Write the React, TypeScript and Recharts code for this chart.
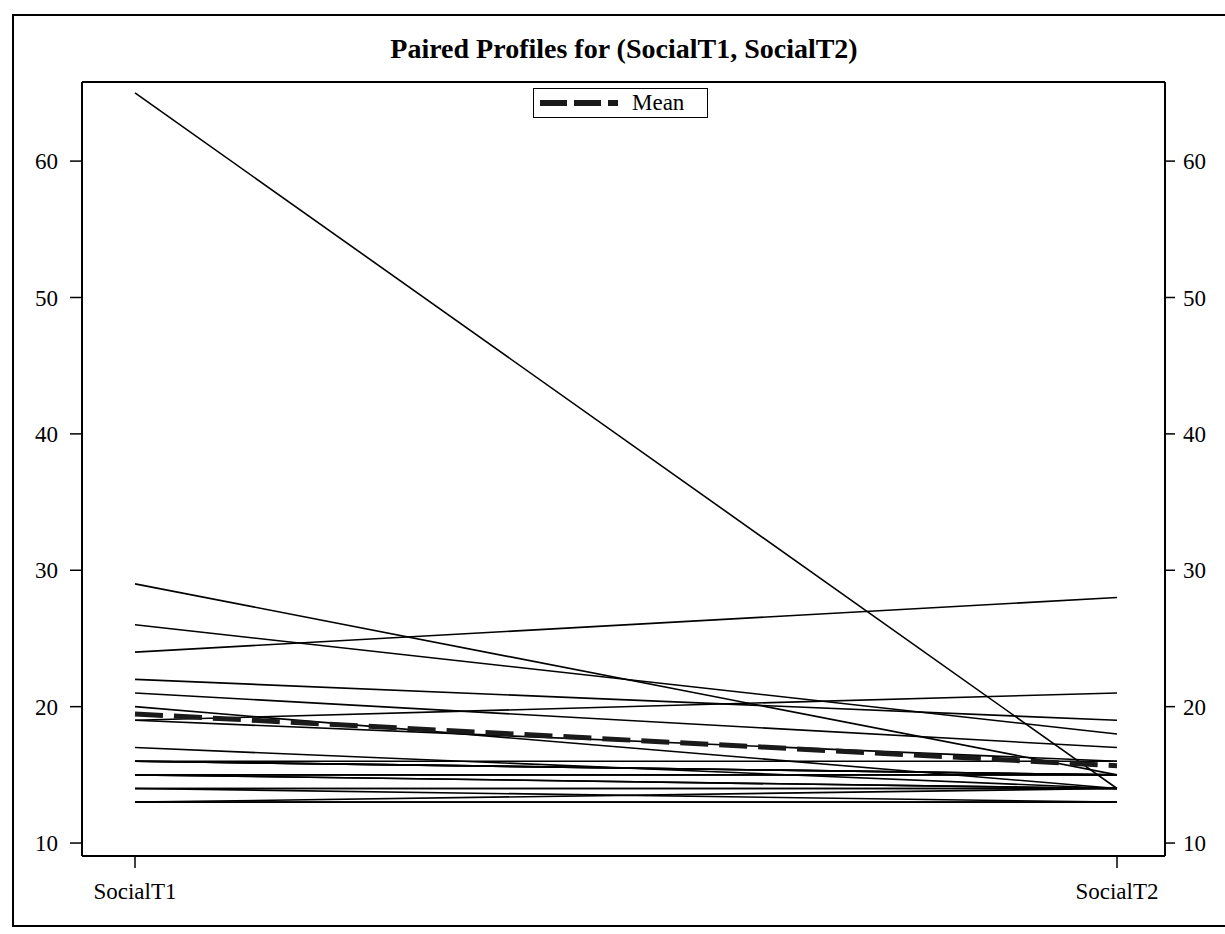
import { LineChart, Line, XAxis, YAxis } from "recharts";

const timeLabels = ["SocialT1", "SocialT2"];

// one entry per subject: score at T1 and at T2
const socialT1 = [65, 29, 26, 24, 22, 21, 20, 19, 19, 17, 16, 16, 16, 15, 15, 15, 14, 14, 13, 13, 16, 15, 14, 13];
const socialT2 = [14, 15, 18, 28, 19, 17, 14, 21, 16, 14, 16, 15, 15, 15, 14, 14, 14, 14, 13, 14, 15, 15, 13, 13];

const yTicks = [10, 20, 30, 40, 50, 60];
const yDomain = [9.05, 65.8];

const avg = (a: number[]) => a.reduce((s, v) => s + v, 0) / a.length;
const means = [avg(socialT1), avg(socialT2)];

const data = timeLabels.map((time, j) => {
  const row: any = { time, mean: means[j] };
  socialT1.forEach((v, i) => {
    row["s" + i] = j === 0 ? v : socialT2[i];
  });
  return row;
});

const serif = "'Liberation Serif', 'Times New Roman', serif";
const tickStyle = { fontFamily: serif, fontSize: 23, fill: "#000" };
const axisLine = { stroke: "#000", strokeWidth: 2 };
const tickLine = { stroke: "#000", strokeWidth: 1.5 };

export default function App() {
  return (
    <div
      style={{
        position: "absolute",
        top: 14,
        left: 12,
        width: 1211,
        height: 909,
        borderLeft: "2px solid #000",
        borderTop: "2px solid #000",
        borderBottom: "2px solid #000",
        background: "#fff",
        fontFamily: serif,
        overflow: "hidden",
      }}
    >
      <div
        style={{
          position: "absolute",
          top: 17,
          left: 0,
          width: 1220,
          textAlign: "center",
          fontSize: 28,
          fontWeight: "bold",
          lineHeight: "32px",
          zIndex: 2,
        }}
      >
        Paired Profiles for (SocialT1, SocialT2)
      </div>
      <div
        style={{
          position: "absolute",
          top: 72,
          left: 519,
          width: 175,
          height: 30,
          border: "1.5px solid #000",
          background: "#fff",
          display: "flex",
          alignItems: "center",
          paddingLeft: 6,
          boxSizing: "border-box",
          zIndex: 2,
        }}
      >
        <svg width={78} height={10}>
          <line x1={0} y1={5} x2={78} y2={5} stroke="#1a1a1a" strokeWidth={6} strokeDasharray="27 7" />
        </svg>
        <span style={{ fontSize: 23, marginLeft: 14 }}>Mean</span>
      </div>
      <LineChart
        width={1211}
        height={909}
        data={data}
        margin={{ top: 65, right: 0, left: 8, bottom: 19 }}
      >
        <XAxis
          dataKey="time"
          padding={{ left: 53, right: 48 }}
          height={50}
          tick={tickStyle}
          tickSize={12}
          tickMargin={15}
          axisLine={axisLine}
          tickLine={tickLine}
        />
        <XAxis
          xAxisId="top"
          orientation="top"
          dataKey="time"
          padding={{ left: 53, right: 48 }}
          height={1}
          tick={false}
          tickLine={false}
          axisLine={axisLine}
        />
        <YAxis
          type="number"
          domain={yDomain}
          ticks={yTicks}
          allowDataOverflow
          width={60}
          tick={tickStyle}
          tickSize={12}
          tickMargin={12}
          axisLine={axisLine}
          tickLine={tickLine}
        />
        <YAxis
          yAxisId="right"
          orientation="right"
          type="number"
          domain={yDomain}
          ticks={yTicks}
          allowDataOverflow
          width={60}
          tick={{ ...tickStyle, textAnchor: "start" }}
          tickSize={10}
          tickMargin={8}
          axisLine={axisLine}
          tickLine={tickLine}
        />
        {socialT1.map((_, i) => (
          <Line
            key={i}
            dataKey={"s" + i}
            stroke="#000"
            strokeWidth={1.6}
            dot={false}
            activeDot={false}
            isAnimationActive={false}
          />
        ))}
        <Line
          dataKey="mean"
          stroke="#1a1a1a"
          strokeWidth={5}
          strokeDasharray="28 11"
          dot={false}
          activeDot={false}
          isAnimationActive={false}
        />
      </LineChart>
    </div>
  );
}
